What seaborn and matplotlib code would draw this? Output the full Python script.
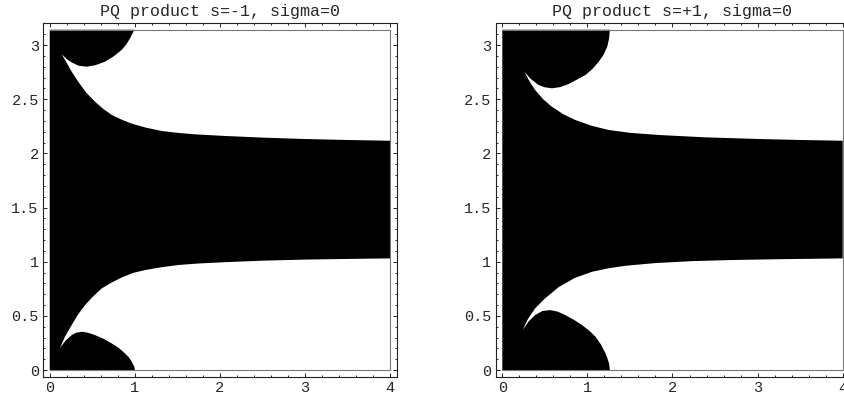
import matplotlib
matplotlib.use('Agg')
import matplotlib.pyplot as plt
from matplotlib.ticker import MultipleLocator
import seaborn as sns

PI = 3.14159

# 左图 s=-1 的边界点
left_title = "PQ product s=-1, sigma=0"
left_top_x = [0.141, 0.2, 0.258, 0.336, 0.434, 0.54, 0.65, 0.75, 0.846, 0.9, 0.944, 0.975, 0.995]
left_top_y = [2.915, 2.87, 2.84, 2.81, 2.80, 2.815, 2.847, 2.895, 2.955, 3.005, 3.063, 3.11, 3.1416]
left_up_x = [0.141, 0.2, 0.258, 0.336, 0.43, 0.532, 0.63, 0.729, 0.85, 0.964, 1.13, 1.316, 1.5, 1.708,
             2.061, 2.5, 3.0, 3.5, 4.0]
left_up_y = [2.915, 2.835, 2.755, 2.66, 2.56, 2.477, 2.41, 2.355, 2.31, 2.275, 2.238, 2.207, 2.19, 2.176,
             2.161, 2.146, 2.133, 2.124, 2.117]
left_lo_x = [0.121, 0.18, 0.258, 0.33, 0.415, 0.51, 0.611, 0.72, 0.846, 0.98, 1.12, 1.3, 1.511, 1.75,
             2.06, 2.5, 3.0, 3.5, 4.0]
left_lo_y = [0.206, 0.31, 0.416, 0.51, 0.60, 0.68, 0.754, 0.805, 0.855, 0.897, 0.923, 0.948, 0.97, 0.984,
             0.996, 1.01, 1.02, 1.026, 1.031]
left_bot_x = [1.0, 0.995, 0.964, 0.93, 0.885, 0.81, 0.729, 0.63, 0.532, 0.45, 0.376, 0.31, 0.258, 0.19, 0.121]
left_bot_y = [0.0, 0.03, 0.077, 0.118, 0.154, 0.205, 0.246, 0.29, 0.323, 0.345, 0.354, 0.345, 0.323, 0.275, 0.206]

# 右图 s=+1 的边界点
right_title = "PQ product s=+1, sigma=0"
right_top_x = [0.26, 0.33, 0.425, 0.5, 0.583, 0.68, 0.78, 0.977, 1.06, 1.134, 1.19, 1.233, 1.255, 1.264]
right_top_y = [2.754, 2.69, 2.632, 2.61, 2.601, 2.612, 2.64, 2.724, 2.78, 2.847, 2.91, 2.985, 3.06, 3.1416]
right_up_x = [0.26, 0.32, 0.386, 0.48, 0.583, 0.72, 0.859, 1.05, 1.252, 1.5, 1.842, 2.4, 3.02, 3.5, 4.0]
right_up_y = [2.754, 2.665, 2.585, 2.50, 2.431, 2.36, 2.308, 2.255, 2.216, 2.19, 2.17, 2.148, 2.133, 2.124, 2.117]
right_lo_x = [0.24, 0.3, 0.386, 0.5, 0.661, 0.85, 1.056, 1.25, 1.449, 1.8, 2.237, 2.7, 3.2, 4.0]
right_lo_y = [0.37, 0.47, 0.57, 0.66, 0.765, 0.85, 0.908, 0.94, 0.963, 0.988, 1.006, 1.016, 1.023, 1.031]
right_bot_x = [1.264, 1.255, 1.235, 1.213, 1.16, 1.095, 1.02, 0.938, 0.84, 0.74, 0.65, 0.563, 0.47, 0.386, 0.31, 0.24]
right_bot_y = [0.0, 0.06, 0.11, 0.154, 0.235, 0.308, 0.365, 0.415, 0.465, 0.508, 0.54, 0.554, 0.545, 0.508, 0.45, 0.37]

sns.set_style("ticks")
plt.rcParams['font.family'] = ['Liberation Mono', 'DejaVu Sans Mono']

fig = plt.figure(figsize=(8.45, 3.98), dpi=100)


def draw_panel(rect, title, top_x, top_y, up_x, up_y, lo_x, lo_y, bot_x, bot_y):
    ax = fig.add_axes(rect)
    # 黑色区域：一条闭合多边形
    xs = [0] + bot_x + lo_x + up_x[::-1] + top_x + [0]
    ys = [0] + bot_y + lo_y + up_y[::-1] + top_y + [PI]
    ax.fill(xs, ys, color='black', lw=0)
    # 绘图区域的灰色边框
    ax.plot([0, 4, 4, 0], [0, 0, PI, PI], color='#777777', lw=0.8)

    ax.set_xlim(-0.08, 4.08)
    ax.set_ylim(-0.0628, 3.2044)
    ax.set_xticks([0, 1, 2, 3, 4])
    ax.set_xticklabels(['0', '1', '2', '3', '4'])
    ax.set_yticks([0, 0.5, 1, 1.5, 2, 2.5, 3])
    ax.set_yticklabels(['0', '0.5', '1', '1.5', '2', '2.5', '3'])
    ax.xaxis.set_minor_locator(MultipleLocator(0.2))
    ax.yaxis.set_minor_locator(MultipleLocator(0.1))
    ax.tick_params(which='both', direction='in', top=True, right=True,
                   width=0.7, color='#222222', labelsize=11, pad=3)
    ax.tick_params(which='major', length=3.2)
    ax.tick_params(which='minor', length=1.6)
    for sp in ax.spines.values():
        sp.set_color('#222222')
        sp.set_linewidth(0.8)
    ax.set_title(title, fontsize=12, pad=5)
    return ax


draw_panel([0.0508, 0.053, 0.4189, 0.8894], left_title,
           left_top_x, left_top_y, left_up_x, left_up_y, left_lo_x, left_lo_y, left_bot_x, left_bot_y)
draw_panel([0.5864, 0.053, 0.4189, 0.8894], right_title,
           right_top_x, right_top_y, right_up_x, right_up_y, right_lo_x, right_lo_y, right_bot_x, right_bot_y)

plt.savefig('out.png', dpi=100)
